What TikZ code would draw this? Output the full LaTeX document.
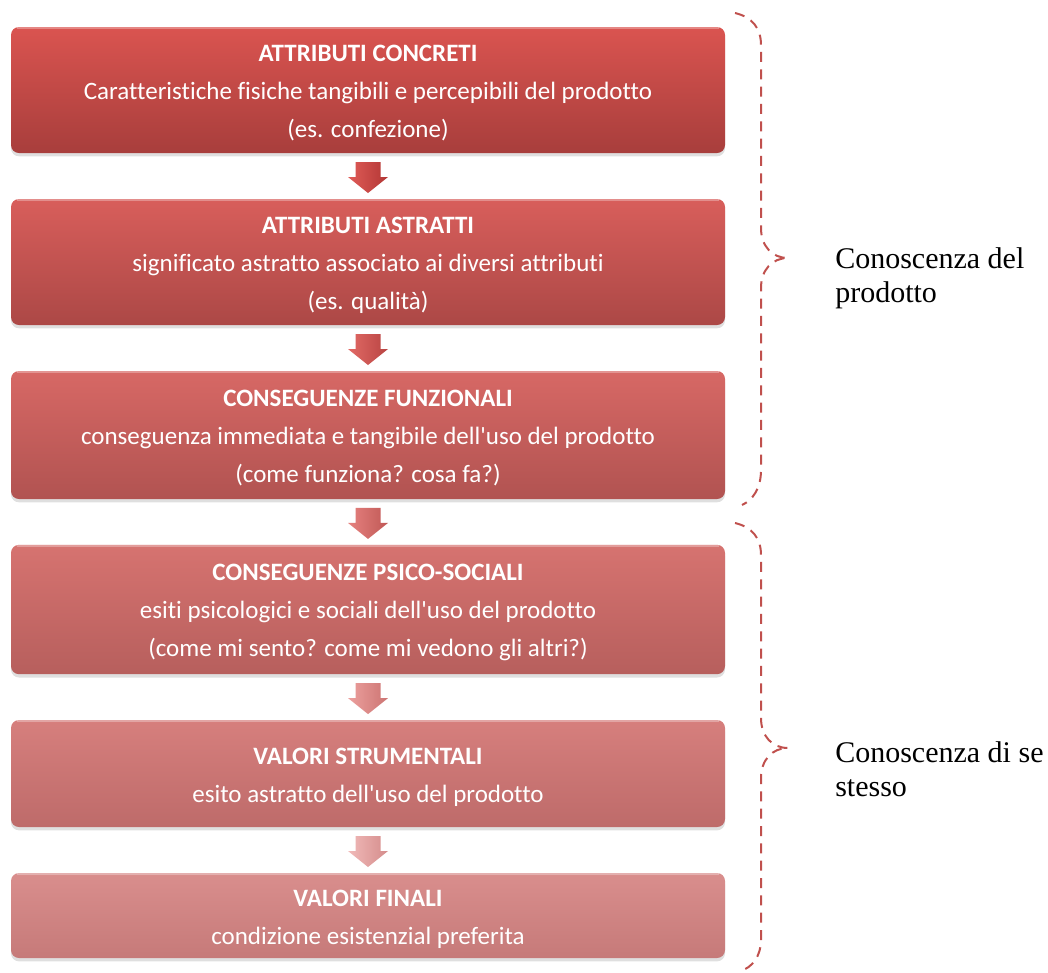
\documentclass[tikz,border=0pt]{standalone}
\usepackage{fontspec}
\newfontfamily\boxfont{Carlito}[Ligatures=CommonOff]
\newfontfamily\labelfont{Liberation Serif}
\usetikzlibrary{calc,shadows}

% box gradients (top / bottom), getting lighter down the ladder
\definecolor{boxAt}{RGB}{218,84,80}   \definecolor{boxAb}{RGB}{168,62,60}
\definecolor{boxBt}{RGB}{216,94,91}   \definecolor{boxBb}{RGB}{172,72,70}
\definecolor{boxCt}{RGB}{215,104,101} \definecolor{boxCb}{RGB}{177,83,81}
\definecolor{boxDt}{RGB}{214,115,112} \definecolor{boxDb}{RGB}{183,95,93}
\definecolor{boxEt}{RGB}{214,127,125} \definecolor{boxEb}{RGB}{190,107,106}
\definecolor{boxFt}{RGB}{217,142,141} \definecolor{boxFb}{RGB}{198,122,121}
% arrow faces (light / dark)
\definecolor{arrAl}{RGB}{224,92,88}   \definecolor{arrAd}{RGB}{178,54,52}
\definecolor{arrBl}{RGB}{226,106,102} \definecolor{arrBd}{RGB}{184,68,66}
\definecolor{arrCl}{RGB}{230,130,127} \definecolor{arrCd}{RGB}{192,88,86}
\definecolor{arrDl}{RGB}{236,160,158} \definecolor{arrDd}{RGB}{204,116,114}
\definecolor{arrEl}{RGB}{241,186,185} \definecolor{arrEd}{RGB}{212,140,139}
\definecolor{braceRed}{RGB}{192,80,77}

\tikzset{
  stagebox/.style={rounded corners=6pt, minimum width=535.5pt, inner sep=0pt,
    drop shadow={opacity=0.25, shadow xshift=0pt, shadow yshift=-2.5pt}},
  stagetext/.style={inner sep=0pt, align=center, text=white,
    font=\boxfont\fontsize{18.75}{28.5}\selectfont},
  bracepath/.style={draw=braceRed, line width=1.5pt, dash pattern=on 7.5pt off 5.5pt},
  sidelabel/.style={font=\labelfont\fontsize{22.5}{25.5}\selectfont, align=left,
    anchor=base west, inner sep=0pt},
  gloss/.style={white, opacity=0.3, line width=1.2pt},
}

% block arrow centred between two stacked boxes
\newcommand\flowarrow[4]{%
  \coordinate (#1#2) at ($(#1.south)!0.5!(#2.north)$);
  \shade[left color=#3, right color=#4]
    ([shift={(-12.5,-14)}]#1#2) -- ([shift={(12.5,-14)}]#1#2) --
    ([shift={(12.5,1)}]#1#2) -- ([shift={(20,1)}]#1#2) --
    ([shift={(0,17)}]#1#2) -- ([shift={(-20,1)}]#1#2) --
    ([shift={(-12.5,1)}]#1#2) -- cycle;
}

\begin{document}
\begin{tikzpicture}[x=0.75pt, y=-0.75pt]
\useasboundingbox (0,0) rectangle (1048,972);

% the six stages
\node[stagebox, top color=boxAt, bottom color=boxAb, minimum height=94.5pt] (b1) at (368,90) {};
\node[stagebox, top color=boxBt, bottom color=boxBb, minimum height=94.5pt] (b2) at (368,262) {};
\node[stagebox, top color=boxCt, bottom color=boxCb, minimum height=96pt] (b3) at (368,435) {};
\node[stagebox, top color=boxDt, bottom color=boxDb, minimum height=97pt] (b4) at (368,609.5) {};
\node[stagebox, top color=boxEt, bottom color=boxEb, minimum height=80.25pt] (b5) at (368,773.5) {};
\node[stagebox, top color=boxFt, bottom color=boxFb, minimum height=63.75pt] (b6) at (368,915.5) {};

% glossy rim along the top of each box
\foreach \n in {b1,b2,b3,b4,b5,b6}
  \draw[gloss] ([xshift=5pt,yshift=-1pt]\n.north west) -- ([xshift=-5pt,yshift=-1pt]\n.north east);

% stage texts
\node[stagetext] (t1) at ([yshift=-2.5pt]b1.center)
  {{\bfseries ATTRIBUTI CONCRETI}\\Caratteristiche fisiche tangibili e percepibili del prodotto\\(es. confezione)};
\node[stagetext] (t2) at ([yshift=-2.5pt]b2.center)
  {{\bfseries ATTRIBUTI ASTRATTI}\\significato astratto associato ai diversi attributi\\(es. qualità)};
\node[stagetext] (t3) at ([yshift=-2.5pt]b3.center)
  {{\bfseries CONSEGUENZE FUNZIONALI}\\conseguenza immediata e tangibile dell'uso del prodotto\\(come funziona? cosa fa?)};
\node[stagetext] (t4) at ([yshift=-2.5pt]b4.center)
  {{\bfseries CONSEGUENZE PSICO-SOCIALI}\\esiti psicologici e sociali dell'uso del prodotto\\(come mi sento? come mi vedono gli altri?)};
\node[stagetext] (t5) at ([yshift=-2.5pt]b5.center)
  {{\bfseries VALORI STRUMENTALI}\\esito astratto dell'uso del prodotto};
\node[stagetext] (t6) at ([yshift=-2.5pt]b6.center)
  {{\bfseries VALORI FINALI}\\condizione esistenzial preferita};

\flowarrow{b1}{b2}{arrAl}{arrAd}
\flowarrow{b2}{b3}{arrBl}{arrBd}
\flowarrow{b3}{b4}{arrCl}{arrCd}
\flowarrow{b4}{b5}{arrDl}{arrDd}
\flowarrow{b5}{b6}{arrEl}{arrEd}

% dashed braces grouping the stages
\draw[bracepath] (735,13) .. controls (752,17) and (761,28) .. (761,45) -- (761,228)
  .. controls (761,246) and (772,258) .. (788,258)
  .. controls (772,258) and (761,270) .. (761,288) -- (761,470)
  .. controls (761,488) and (753,500) .. (742,505);
\draw[bracepath] (735,523) .. controls (752,527) and (761,538) .. (761,555) -- (761,718)
  .. controls (761,736) and (772,748) .. (788,748)
  .. controls (772,748) and (761,760) .. (761,778) -- (761,940)
  .. controls (761,956) and (752,968) .. (740,971);

% group labels (anchored on the baseline of their last line)
\node[sidelabel] (k1) at (835,302) {Conoscenza del\\prodotto};
\node[sidelabel] (k2) at (835,796) {Conoscenza di se\\stesso};
\end{tikzpicture}
\end{document}
